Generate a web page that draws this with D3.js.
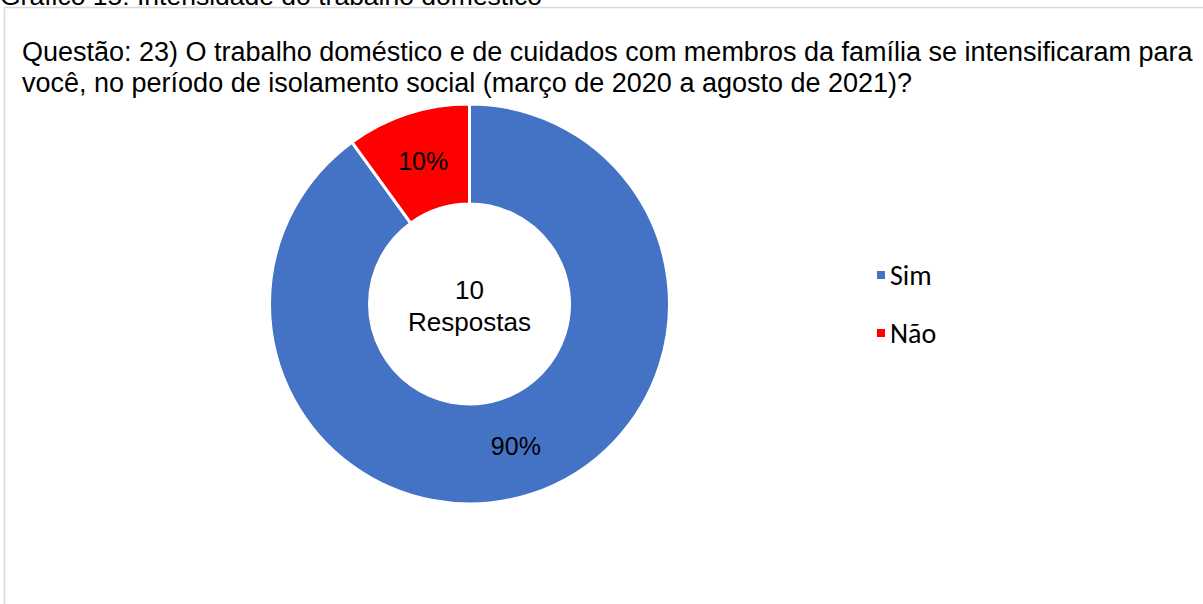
<!DOCTYPE html>
<html>
<head>
<meta charset="utf-8">
<script src="https://cdn.jsdelivr.net/npm/d3@7"></script>
<style>
  body { margin: 0; background: #fff; }
  svg { display: block; }
</style>
</head>
<body>
<svg class="svg-chart" width="1203" height="604"></svg>
<script>
// chart data
const categories = ["Sim", "Não"];
const values = [90, 10];
const colors = ["#4472C4", "#FF0000"];
const totalLabel = ["10", "Respostas"];
const captionText = "Gráfico 15: Intensidade do trabalho doméstico";
const titleLines = [
  "Questão: 23) O trabalho doméstico e de cuidados com membros da família se intensificaram para",
  "você, no período de isolamento social (março de 2020 a agosto de 2021)?"
];

const svg = d3.select(".svg-chart");
const font = "Arial, 'Liberation Sans', sans-serif";

// caption, cut off at the top like in the source page
svg.append("text")
  .attr("x", 0).attr("y", 5)
  .attr("font-family", font).attr("font-size", 26.5)
  .attr("fill", "#000")
  .text(captionText);

// chart frame
svg.append("rect")
  .attr("x", 4.5).attr("y", 7.5)
  .attr("width", 1210).attr("height", 620)
  .attr("fill", "#fff")
  .attr("stroke", "#d9d9d9").attr("stroke-width", 1.5);

svg.append("g")
  .selectAll("text")
  .data(titleLines)
  .enter()
  .append("text")
  .attr("x", 22)
  .attr("y", function (d, i) { return 61 + i * 31; })
  .attr("font-family", font).attr("font-size", 27)
  .attr("fill", "#000")
  .text(function (d) { return d; });

// donut
const cx = 469.5, cy = 304, outerR = 200, innerR = 100;
const pie = d3.pie().sort(null).value(function (d) { return d.value; });
const arcs = pie(categories.map(function (c, i) { return { name: c, value: values[i], color: colors[i] }; }));
const arc = d3.arc().innerRadius(innerR).outerRadius(outerR);

const g = svg.append("g").attr("transform", "translate(" + cx + "," + cy + ")");

g.selectAll("path")
  .data(arcs)
  .enter()
  .append("path")
  .attr("d", arc)
  .attr("fill", function (d) { return d.data.color; })
  .attr("stroke", "#fff")
  .attr("stroke-width", 3)
  .attr("stroke-linejoin", "round");

const total = d3.sum(values);
g.selectAll(".lbl")
  .data(arcs)
  .enter()
  .append("text")
  .attr("class", "lbl")
  .attr("transform", function (d) { return "translate(" + arc.centroid(d) + ")"; })
  .attr("text-anchor", "middle")
  .attr("dy", "0.35em")
  .attr("font-family", font).attr("font-size", 25)
  .attr("fill", "#000")
  .text(function (d) { return Math.round(d.data.value / total * 100) + "%"; });

g.selectAll(".center")
  .data(totalLabel)
  .enter()
  .append("text")
  .attr("class", "center")
  .attr("x", 0)
  .attr("y", function (d, i) { return -14 + i * 32; })
  .attr("text-anchor", "middle")
  .attr("dy", "0.35em")
  .attr("font-family", font).attr("font-size", 26)
  .attr("fill", "#000")
  .text(function (d) { return d; });

// legend
const legend = svg.append("g").attr("transform", "translate(877,275)");
const item = legend.selectAll("g")
  .data(categories)
  .enter()
  .append("g")
  .attr("transform", function (d, i) { return "translate(0," + i * 58 + ")"; });

item.append("rect")
  .attr("x", 0).attr("y", -4)
  .attr("width", 8).attr("height", 8)
  .attr("fill", function (d, i) { return colors[i]; });

item.append("text")
  .attr("x", 13)
  .attr("dy", "0.35em")
  .attr("font-family", "Carlito, 'Open Sans', 'Noto Sans', sans-serif")
  .attr("font-size", 28)
  .attr("fill", "#000")
  .text(function (d) { return d; });
</script>
</body>
</html>
